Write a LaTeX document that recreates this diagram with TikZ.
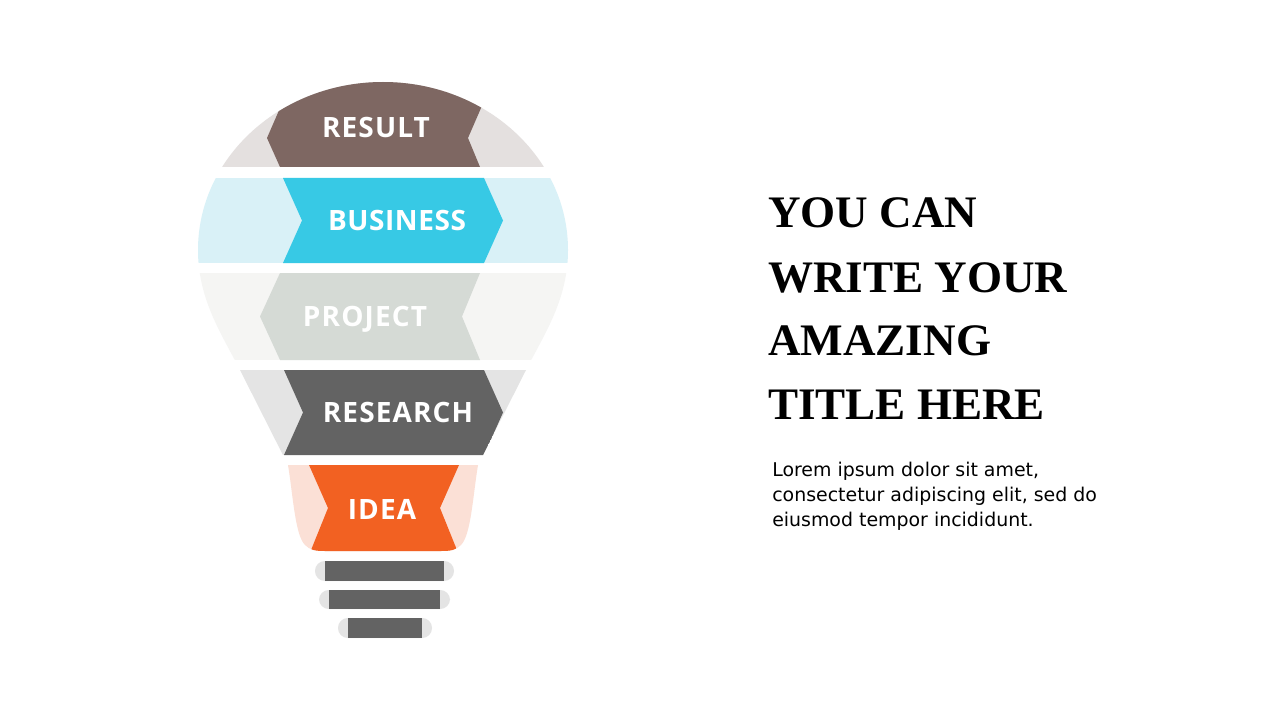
\documentclass[tikz,border=0pt]{standalone}
\usepackage{fontspec}
\setmainfont{Liberation Serif}
\newfontfamily\labelfont[LetterSpace=4]{Open Sans}
\newfontfamily\bodyfont{DejaVu Sans}
\newfontfamily\titlefont{Liberation Serif}
\definecolor{resDark}{HTML}{7E6762}
\definecolor{resLight}{HTML}{E4E0DF}
\definecolor{busDark}{HTML}{37C9E5}
\definecolor{busLight}{HTML}{D9F1F7}
\definecolor{proDark}{HTML}{D5DAD5}
\definecolor{proLight}{HTML}{F5F5F3}
\definecolor{rsDark}{HTML}{636363}
\definecolor{rsLight}{HTML}{E4E4E4}
\definecolor{ideaDark}{HTML}{F26122}
\definecolor{ideaLight}{HTML}{FBE0D6}
\tikzset{
  lbl/.style={anchor=base, text=white, font=\labelfont\bfseries\fontsize{21}{24}\selectfont, inner sep=0pt},
  ttl/.style={anchor=base west, inner sep=0pt, font=\titlefont\bfseries\fontsize{33.8}{40}\selectfont},
  body/.style={anchor=base west, inner sep=0pt, font=\bodyfont\fontsize{14.2}{17}\selectfont},
  pill/.style={fill=rsLight, rounded corners=7.4},
  bar/.style={fill=rsDark}
}
\begin{document}
\begin{tikzpicture}[x=0.75pt,y=-0.75pt]
\useasboundingbox (0,0) rectangle (1280,720);
\fill[white] (0,0) rectangle (1280,720);
\begin{scope}
\clip (383,82) .. controls (280.8,82) and (198,157.2) .. (198,250)
  .. controls (198,300) and (222.3,335) .. (240,370) -- (288,465)
  .. controls (293,495) and (295,535) .. (305,545)
  .. controls (310,550) and (315,551) .. (325,551) -- (441,551)
  .. controls (451,551) and (456,550) .. (461,545)
  .. controls (471,535) and (473,495) .. (478,465) -- (526,370)
  .. controls (543.7,335) and (568,300) .. (568,250)
  .. controls (568,157.2) and (485.2,82) .. (383,82) -- cycle;
% light bands
\fill[resLight] (150,60) rectangle (620,167);
\fill[busLight] (150,178) rectangle (620,263);
\fill[proLight] (150,273) rectangle (620,360);
\fill[rsLight] (150,370) rectangle (620,455);
\fill[ideaLight] (150,465) rectangle (620,600);
% chevrons
\fill[resDark] (280,167) -- (267,138) -- (300,62) -- (501,62) -- (468,138) -- (480,167) -- cycle;
\fill[busDark] (283,178) -- (484,178) -- (503,220.5) -- (484,263) -- (283,263) -- (302,220.5) -- cycle;
\fill[proDark] (280,273) -- (480,273) -- (462,316.5) -- (480,360) -- (280,360) -- (260,316.5) -- cycle;
\fill[rsDark] (284,370) -- (484,370) -- (503,412.5) -- (484,455) -- (284,455) -- (303,412.5) -- cycle;
\fill[ideaDark] (309,465) -- (459,465) -- (440,508) -- (461,560) -- (307,560) -- (328,508) -- cycle;
\end{scope}
% labels
\node[lbl] (lres) at (376,138) {RESULT};
\node[lbl, font=\labelfont\bfseries\fontsize{21}{24}\selectfont\addfontfeatures{LetterSpace=2}] (lbus) at (397,230) {BUSINESS};
\node[lbl] (lpro) at (365,326) {PROJECT};
\node[lbl] (lrs) at (398,422) {RESEARCH};
\node[lbl] (lidea) at (382,519) {IDEA};
% base
\fill[pill] (315,561) rectangle (454,581);
\fill[bar] (325,561) rectangle (444,581);
\fill[pill] (319,590) rectangle (450,609);
\fill[bar] (329,590) rectangle (440,609);
\fill[pill] (338,618) rectangle (432,638);
\fill[bar] (348,618) rectangle (422,638);
% title
\node[ttl] (t1) at (768,228) {YOU CAN};
\node[ttl] (t2) at (768,292) {WRITE YOUR};
\node[ttl] (t3) at (768,355) {AMAZING};
\node[ttl] (t4) at (768,419) {TITLE HERE};
% body
\node[body] (b1) at (772,476) {Lorem ipsum dolor sit amet,};
\node[body] (b2) at (772,501) {consectetur adipiscing elit, sed do};
\node[body] (b3) at (772,526) {eiusmod tempor incididunt.};
\end{tikzpicture}
\end{document}
